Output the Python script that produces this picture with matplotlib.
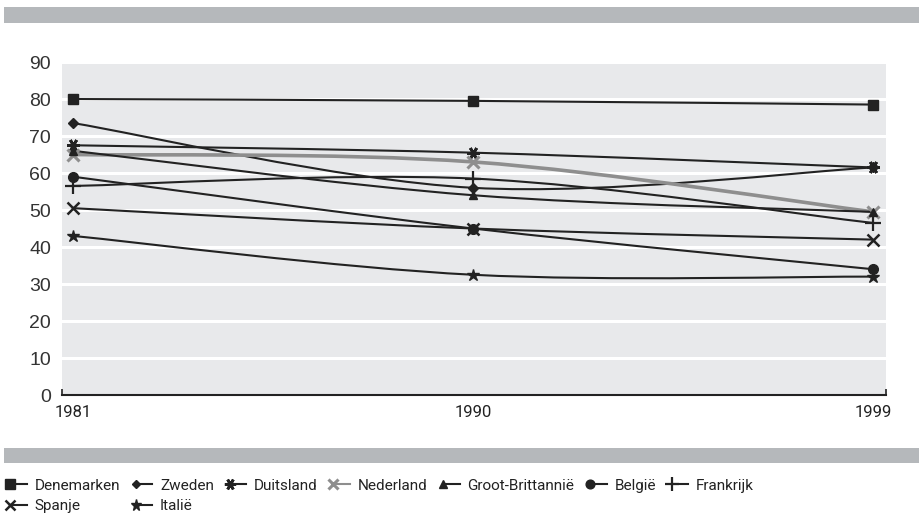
import matplotlib
matplotlib.use("Agg")
import matplotlib.pyplot as plt
from matplotlib.path import Path
from matplotlib.patches import PathPatch, Rectangle
from matplotlib.lines import Line2D
from matplotlib.legend_handler import HandlerBase

# =========================
# DATA
# =========================
years = [1981, 1990, 1999]
countries = ["Denemarken", "Zweden", "Duitsland", "Nederland", "Groot-Brittannië",
             "België", "Frankrijk", "Spanje", "Italië"]
denemarken = [80, 79.5, 78.5]
zweden = [73.5, 56, 61.5]
duitsland = [67.5, 65.5, 61.5]
nederland = [65, 63, 49.5]
groot_brittannie = [66, 54, 49.5]
belgie = [59, 45, 34]
frankrijk = [56.5, 58.5, 46.5]
spanje = [50.5, 45, 42]
italie = [43, 32.5, 32]
series = [denemarken, zweden, duitsland, nederland, groot_brittannie,
          belgie, frankrijk, spanje, italie]

# =========================
# STYLE
# =========================
DARK = "#222222"
GREY_LINE = "#8e8e8e"
PLOT_BG = "#e8e9eb"
BAND = "#b5b8bb"
TEXT = "#222222"
NARROW = ["Roboto", "DejaVu Sans"]

styles = {
    "Denemarken": dict(marker="s", ms=7.5),
    "Zweden": dict(marker="D", ms=5),
    "Duitsland": dict(marker=(6, 2, 90), ms=9, mew=2),
    "Nederland": dict(marker="x", ms=8, mew=2.2),
    "Groot-Brittannië": dict(marker="^", ms=6),
    "België": dict(marker="o", ms=7),
    "Frankrijk": dict(marker="+", ms=11, mew=1.6),
    "Spanje": dict(marker="x", ms=8, mew=1.8),
    "Italië": dict(marker="*", ms=9),
}


def smooth_path(xs, ys):
    # bezier through the points (same kind of smoothing as spreadsheet charts)
    pts = list(zip(xs, ys))
    verts = [pts[0]]
    codes = [Path.MOVETO]
    n = len(pts)
    for i in range(n - 1):
        p0 = pts[max(i - 1, 0)]
        p1 = pts[i]
        p2 = pts[i + 1]
        p3 = pts[min(i + 2, n - 1)]
        c1 = (p1[0] + (p2[0] - p0[0]) / 6, p1[1] + (p2[1] - p0[1]) / 6)
        c2 = (p2[0] - (p3[0] - p1[0]) / 6, p2[1] - (p3[1] - p1[1]) / 6)
        verts += [c1, c2, p2]
        codes += [Path.CURVE4] * 3
    return Path(verts, codes)


class MarkerLeftHandler(HandlerBase):
    # marker on the left, short line running to the right
    def create_artists(self, legend, orig_handle, xdescent, ydescent,
                       width, height, fontsize, trans):
        y = height / 2 - ydescent
        x0 = -xdescent
        mx = x0 + width * 0.22
        line = Line2D([mx, x0 + width], [y, y], color=orig_handle.get_color(),
                      lw=orig_handle.get_linewidth())
        mark = Line2D([mx], [y], linestyle="none", marker=orig_handle.get_marker(),
                      ms=orig_handle.get_markersize(), mew=orig_handle.get_markeredgewidth(),
                      color=orig_handle.get_color())
        line.set_transform(trans)
        mark.set_transform(trans)
        return [line, mark]


fig = plt.figure(figsize=(9.2, 5.19), dpi=100)
ax = fig.add_axes([0.0674, 0.2389, 0.8956, 0.6416])
ax.set_facecolor(PLOT_BG)

for name, vals in zip(countries, series):
    col = GREY_LINE if name == "Nederland" else DARK
    lw = 2.6 if name == "Nederland" else 1.5
    ax.add_patch(PathPatch(smooth_path(years, vals), facecolor="none",
                           edgecolor=col, lw=lw, zorder=3))
    st = styles[name]
    ax.plot(years, vals, linestyle="none", marker=st["marker"], ms=st["ms"],
            mew=st.get("mew", 1), color=col, zorder=4)

ax.set_xlim(1980.75, 1999.29)
ax.set_ylim(0, 90)
ax.set_yticks(range(0, 91, 10))
ax.yaxis.grid(True, color="white", lw=2.2)
ax.set_axisbelow(True)
ax.tick_params(axis="y", length=0, labelsize=14, labelcolor="#333333", pad=8)
for lab in ax.get_yticklabels():
    lab.set_family("Liberation Sans")

ax.set_xticks(years)
ax.set_xticklabels([str(y) for y in years], family=NARROW, fontsize=12, color=TEXT)
ax.tick_params(axis="x", length=0, pad=7)
ax.set_xticks([1980.75, 1990, 1999.29], minor=True)
ax.tick_params(axis="x", which="minor", direction="in", length=4, width=1.2, color=DARK)

for s in ["left", "right", "top"]:
    ax.spines[s].set_visible(False)
ax.spines["bottom"].set_color(DARK)
ax.spines["bottom"].set_linewidth(1.5)

# grey bands
fig.add_artist(Rectangle((0.0043, 0.9557), 0.9957, 0.0308, transform=fig.transFigure,
                         facecolor=BAND, edgecolor="none"))
fig.add_artist(Rectangle((0.0043, 0.1079), 0.9957, 0.0289, transform=fig.transFigure,
                         facecolor=BAND, edgecolor="none"))

# legend (reordered so it reads row by row)
handles = {}
for name in countries:
    col = GREY_LINE if name == "Nederland" else DARK
    st = styles[name]
    handles[name] = Line2D([], [], color=col, lw=1.5, marker=st["marker"],
                           ms=st["ms"] * 0.9, mew=st.get("mew", 1))
order = ["Denemarken", "Spanje", "Zweden", "Italië", "Duitsland", "Nederland",
         "Groot-Brittannië", "België", "Frankrijk"]
fig.legend([handles[n] for n in order], order, ncol=7, loc="upper left",
           bbox_to_anchor=(0.006, 0.078), frameon=False,
           prop={"family": NARROW, "size": 11}, labelcolor=TEXT,
           handlelength=1.4, handletextpad=0.5, columnspacing=0.72,
           borderaxespad=0, borderpad=0, labelspacing=0.45,
           handler_map={Line2D: MarkerLeftHandler()})

fig.savefig("out.png", dpi=100)
